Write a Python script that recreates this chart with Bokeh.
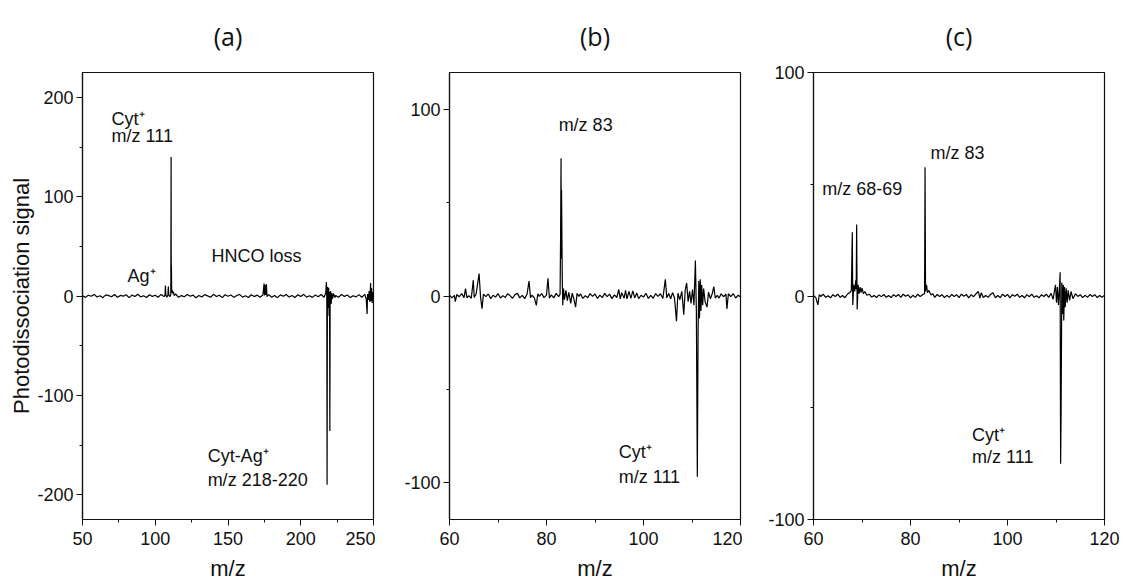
from bokeh.plotting import figure
from bokeh.layouts import row
from bokeh.models import FixedTicker, Range1d, Label, ColumnDataSource
from bokeh.embed import file_html
from bokeh.resources import INLINE

# ---------------- data (m/z, photodissociation signal) ----------------
spec_a = [
    (50, 0.3), (52, -1.4), (54, 0.8), (56, -0.3), (58, 1.6), (60, -1.0), (62, 0.2), (64, -1.7), (66, 1.1), (68, 0.4),
    (70, -0.8), (72, 1.5), (74, -1.3), (76, 0.6), (78, -0.2), (80, 1.2), (82, -1.6), (84, 0.9), (86, -0.5), (88, 1.8),
    (90, -0.9), (92, 0.3), (94, -1.5), (96, 1.3), (98, -0.4), (100, 0.7), (102, -1.2), (104, 1.6), (106, -0.6),
    (106.7, 0.5), (107.0, 10.5), (107.3, 1.0), (108, -1.2), (108.7, 0.8), (109.0, 9.5), (109.3, 1.2), (110, -0.8),
    (110.7, 1.5), (110.9, 140.0), (111.0, 3.0), (111.1, 31.0), (111.3, 4.0), (111.6, 6.0), (112, 2.5), (112.5, 4.5),
    (113, 0.5), (114, 2.0), (116, -1.3), (118, 0.4), (120, -0.7),
    (122, 1.5), (124, -0.2), (126, 0.9), (128, -1.7), (130, 0.6), (132, -1.0), (134, 1.4), (136, 0.1), (138, -1.3), (140, 1.7),
    (142, -0.5), (144, 0.8), (146, -1.6), (148, 1.2), (150, -0.3), (152, 1.0), (154, -1.4), (156, 0.5), (158, 1.6), (160, -1.1),
    (162, 0.2), (164, -1.5), (166, 1.3), (168, -0.6), (170, 0.9), (172, -1.2), (174, 1.1),
    (174.8, 12.5), (175.1, 0.5), (175.6, 11.0), (175.9, 1.0), (176.4, 12.0), (176.8, -0.5), (178, 1.4), (180, -1.3),
    (182, 0.4), (184, -1.7), (186, 1.1), (188, -0.2), (190, 1.5), (192, -1.0), (194, 0.6), (196, -1.6), (198, 1.2), (200, -0.5),
    (202, 1.7), (204, -1.1), (206, 0.3), (208, -1.4), (210, 1.0), (212, -0.7), (214, 1.5), (216, -1.2),
    (217.2, 3.0), (217.6, 14.0), (217.9, 5.0), (218.1, -190.0), (218.3, -6.0), (218.6, 9.0), (218.9, -12.0),
    (219.2, 8.0), (219.5, -20.0), (219.8, 4.0), (220.0, -136.0), (220.2, -4.0), (220.5, 5.0), (220.9, -8.0),
    (221.3, 3.0), (221.8, -3.0), (222.5, 2.5), (223.5, -1.5), (224, 0.6),
    (226, -1.3), (228, 1.6), (230, -0.4), (232, 1.0), (234, -1.6), (236, 0.3), (238, -0.9), (240, 1.4), (242, -1.2),
    (244, 1.6), (245, -3.0), (245.6, -18.0), (245.9, 2.0), (246.5, -4.0), (247, 5.0), (247.5, -6.0), (248.0, 13.0),
    (248.3, -5.0), (248.7, 8.0), (249.1, -7.0), (249.5, 4.0), (250, -2.0),
]

spec_b = [
    (60.0, 0.5), (60.5, -1.0), (61.0, 0.3), (61.2, -3.0), (61.5, 0.8), (62.0, -0.4), (62.5, 1.3), (63.0, -0.9),
    (63.3, 4.0), (63.6, -1.0), (64.0, 0.2), (64.5, -1.2), (64.9, 8.5), (65.1, -0.8), (65.5, 1.2), (66.1, 12.0),
    (66.4, -0.5), (66.7, -6.8), (67.0, 1.0), (67.5, -0.3), (68.0, 1.1), (68.5, -1.4), (69.0, 0.4), (69.5, -0.6),
    (70.0, 1.3), (70.5, -1.1), (71.0, 0.2), (71.5, -0.8), (72.0, 1.3), (72.5, 0.1), (73.0, -1.2), (73.5, 0.7),
    (74.0, 1.4), (74.5, -1.0), (75.0, 0.3), (75.5, -1.4), (76.0, 1.1), (76.4, 8.0), (76.7, -0.9), (77.0, 0.4),
    (77.5, -1.0), (77.9, -5.0), (78.2, 1.2), (78.5, -0.2), (79.0, 1.3), (79.5, -0.9), (80.0, 0.5), (80.3, 9.5),
    (80.6, -1.2), (81.0, 0.6), (81.5, -1.0), (82.0, 1.4), (82.5, -0.4), (82.8, 1.0), (82.9, 30.0), (83.0, 74.0),
    (83.05, 20.0), (83.1, 57.0), (83.25, 10.0), (83.35, -5.0), (83.5, 4.0), (83.7, -2.0), (84.0, 3.0), (84.3, -2.5),
    (84.6, 2.0), (85.0, -4.0), (85.3, 1.5), (85.6, -1.2), (86.0, -6.0), (86.3, 1.4), (86.7, -0.3), (87.0, 1.2),
    (87.5, -1.3), (88.0, 0.2), (88.5, -0.9), (89.0, 1.3), (89.5, -0.2), (90.0, 1.1), (90.5, -1.3), (91.0, 0.5),
    (91.5, -0.9), (92.0, 1.4), (92.5, -0.3), (93.0, 1.0), (93.5, -1.4), (94.0, 0.6), (94.5, -0.8), (94.9, 3.5),
    (95.2, -1.5), (95.5, 1.8), (96.0, -1.2), (96.3, 3.0), (96.6, -1.5), (97.0, 2.5), (97.4, -1.3), (97.8, 2.8),
    (98.2, -1.0), (98.6, 1.6), (99.0, -1.4), (99.5, 0.4), (100.0, -0.6), (100.5, 1.5), (101.0, -1.3), (101.5, 0.3),
    (102.0, -1.2), (102.5, 1.3), (103.0, -0.2), (103.5, 1.2), (104.0, -1.3), (104.5, 9.0), (104.8, -1.0), (105.2, 1.4),
    (105.6, -1.5), (106.0, 1.8), (106.4, -1.2), (106.8, -13.5), (107.1, 1.5), (107.5, -2.0), (107.9, 2.5), (108.3, -10.0),
    (108.6, 3.0), (108.9, 7.0), (109.2, -3.0), (109.5, 2.5), (109.8, -4.0), (110.1, 3.5), (110.4, -5.0), (110.7, 19.0),
    (110.9, -8.0), (111.1, -97.0), (111.25, -20.0), (111.4, 8.0), (111.55, -12.0), (111.7, 9.0), (111.85, -8.0),
    (112.0, 6.0), (112.2, -5.0), (112.4, 4.0), (112.7, -3.0), (113.1, -6.0), (113.4, 2.0), (113.8, -1.5), (114.2, 1.5),
    (114.5, 5.0), (114.8, -1.2), (115.2, 0.3), (115.6, -1.1), (116.0, 1.2), (116.5, -0.4), (117.0, 1.0), (117.2, -7.0),
    (117.5, 1.2), (118.0, -0.3), (118.5, 1.3), (119.0, -1.1), (119.5, 0.4), (120.0, -0.5),
]

spec_c = [
    (60.0, 0.3), (60.5, -0.8), (60.9, -4.0), (61.2, 0.6), (61.5, -0.2), (62.0, 0.8), (62.5, -0.6), (63.0, 0.1),
    (63.5, -0.8), (64.0, 0.6), (64.5, -0.2), (65.0, 0.8), (65.5, -0.6), (66.0, 0.2), (66.5, -0.8), (67.0, 0.9),
    (67.5, 1.5), (67.8, 2.5), (68.0, 28.5), (68.1, -4.0), (68.3, 5.0), (68.5, 2.0), (68.7, 7.0), (68.8, 3.0),
    (68.9, 32.0), (69.0, -6.0), (69.2, 5.0), (69.4, 1.0), (69.6, 4.0), (69.8, 1.5), (70.0, 3.5), (70.3, 1.0),
    (70.6, 2.0), (71.0, 0.3), (71.5, 0.8), (72.0, -0.5), (72.5, 0.2), (73.0, -0.7), (73.5, 0.5), (74.0, -0.3),
    (74.5, 0.7), (75.0, -0.6), (75.5, 0.2), (76.0, -0.7), (76.5, 0.6), (77.0, -0.2), (77.5, 0.7), (78.0, -0.6),
    (78.5, 0.8), (79.0, -0.1), (79.5, 0.5), (80.0, -0.8), (80.5, 0.3), (81.0, -0.6), (81.5, 0.8), (82.0, -0.2),
    (82.5, 0.6), (82.9, 1.0), (83.0, 57.6), (83.1, 2.0), (83.3, 5.0), (83.5, 1.5), (83.8, 2.5), (84.2, 0.5),
    (84.6, 1.0), (85.0, -0.6), (85.5, 0.7), (86.0, -0.2), (86.5, 0.6), (87.0, -0.7), (87.5, 0.3), (88.0, -0.6),
    (88.5, 0.7), (89.0, -0.2), (89.5, 0.6), (90.0, -0.7), (90.5, 0.8), (91.0, -0.1), (91.5, 0.7), (92.0, -0.8),
    (92.5, 0.6), (93.0, -0.3), (93.5, 1.0), (94.0, 2.0), (94.3, -1.0), (94.6, 1.5), (95.0, -0.7), (95.5, 0.2),
    (96.0, -0.6), (96.5, 0.7), (97.0, 1.5), (97.5, -0.8), (98.0, 0.2), (98.5, -0.7), (99.0, 0.8), (99.5, -0.2),
    (100.0, 0.7), (100.5, -0.8), (101.0, 0.6), (101.5, -0.1), (102.0, 0.8), (102.5, -0.6), (103.0, 0.2), (103.5, -0.8),
    (104.0, 0.6), (104.5, -0.3), (105.0, 0.8), (105.5, -0.6), (106.0, 0.1), (106.5, -0.8), (107.0, 0.6), (107.5, -0.2),
    (108.0, 0.8), (108.5, -0.6), (109.0, 1.2), (109.4, -1.5), (109.7, 2.5), (109.9, 5.0), (110.1, -3.0), (110.3, 4.0),
    (110.5, -4.0), (110.7, 3.0), (110.85, 10.6), (110.95, -75.0), (111.05, -53.0), (111.2, 6.0), (111.35, -8.0),
    (111.5, 5.0), (111.6, -11.0), (111.75, 4.0), (111.9, -5.0), (112.1, 3.5), (112.3, -3.0), (112.5, 2.5),
    (112.8, -2.0), (113.1, 2.0), (113.5, -1.2), (114.0, 1.0), (114.5, -0.2), (115.0, 0.6), (115.5, -0.7), (116.0, 0.3),
    (116.5, -0.6), (117.0, 0.7), (117.5, -0.2), (118.0, 0.6), (118.5, -0.7), (119.0, 0.2), (119.5, -0.6), (120.0, 0.4),
]

titles = ["(a)", "(b)", "(c)"]
x_ranges = [(50, 250), (60, 120), (60, 120)]
y_ranges = [(-225, 225), (-120, 120), (-100, 100)]
x_major = [[50, 100, 150, 200, 250], [60, 80, 100, 120], [60, 80, 100, 120]]
x_minor = [[75, 125, 175, 225], [70, 90, 110], [70, 90, 110]]
y_major = [[-200, -100, 0, 100, 200], [-100, 0, 100], [-100, 0, 100]]
y_minor = [[-150, -50, 50, 150], [-50, 50], [-50, 50]]

# annotations: (text, m/z, signal)
notes_a = [("Cyt\u207a", 70, 178), ("m/z 111", 70, 161), ("Ag\u207a", 81, 20),
           ("HNCO loss", 138.7, 40), ("Cyt-Ag\u207a", 136, -161), ("m/z 218-220", 136, -185)]
notes_b = [("m/z 83", 82.5, 92), ("Cyt\u207a", 94.9, -84), ("m/z 111", 94.9, -97)]
notes_c = [("m/z 68-69", 61.8, 48), ("m/z 83", 84.1, 64), ("Cyt\u207a", 92.7, -62), ("m/z 111", 92.7, -72)]

FONT = "Liberation Sans"
INK = "#111111"


def panel(i, spec, notes, left, right, ylabel):
    mz = [s[0] for s in spec]
    sig = [s[1] for s in spec]
    p = figure(frame_width=291, frame_height=447, output_backend="svg", toolbar_location=None,
               x_range=Range1d(*x_ranges[i]), y_range=Range1d(*y_ranges[i]),
               min_border_left=left, min_border_right=right, min_border_top=72, min_border_bottom=60,
               title=titles[i])
    p.title.align = "center"
    p.title.vertical_align = "top"
    p.title.text_font = "Open Sans"
    p.title.text_font_style = "normal"
    p.title.text_font_size = "25px"
    p.title.text_color = INK
    p.title.standoff = 35
    p.grid.visible = False
    p.outline_line_color = INK
    p.outline_line_width = 1.2
    p.background_fill_color = "white"
    p.border_fill_color = "white"

    p.xaxis.ticker = FixedTicker(ticks=x_major[i], minor_ticks=x_minor[i])
    p.yaxis.ticker = FixedTicker(ticks=y_major[i], minor_ticks=y_minor[i])
    p.yaxis.major_label_overrides = {t: str(t) for t in y_major[i]}
    p.xaxis.major_label_overrides = {t: str(t) for t in x_major[i]}
    for ax in (p.xaxis[0], p.yaxis[0]):
        ax.axis_line_color = INK
        ax.axis_line_width = 1.2
        ax.major_tick_in = 0
        ax.major_tick_out = 6
        ax.minor_tick_in = 0
        ax.minor_tick_out = 3
        ax.major_tick_line_color = INK
        ax.minor_tick_line_color = INK
        ax.major_label_text_font = FONT
        ax.major_label_text_font_size = "18px"
        ax.major_label_text_color = INK
        ax.axis_label_text_font = FONT
        ax.axis_label_text_font_size = "22px"
        ax.axis_label_text_font_style = "normal"
        ax.axis_label_text_color = INK
    p.xaxis.major_label_standoff = 6
    p.yaxis.major_label_standoff = 3
    p.xaxis.axis_label = "m/z"
    p.xaxis.axis_label_standoff = 8
    if ylabel:
        p.yaxis.axis_label = "Photodissociation signal"
        p.yaxis.axis_label_standoff = 0

    src = ColumnDataSource(dict(mz=mz, sig=sig))
    p.line("mz", "sig", source=src, line_color="black", line_width=1.2)

    for txt, x, y in notes:
        p.add_layout(Label(x=x, y=y, text=txt, text_font=FONT, text_font_size="18px",
                           text_color=INK, text_baseline="middle", text_align="left"))
    return p


pa = panel(0, spec_a, notes_a, 82, 2, True)
pb = panel(1, spec_b, notes_b, 74, 2, False)
pc = panel(2, spec_c, notes_c, 71, 18, False)

layout = row(pa, pb, pc)
open("out.html", "w").write(file_html(layout, INLINE))
